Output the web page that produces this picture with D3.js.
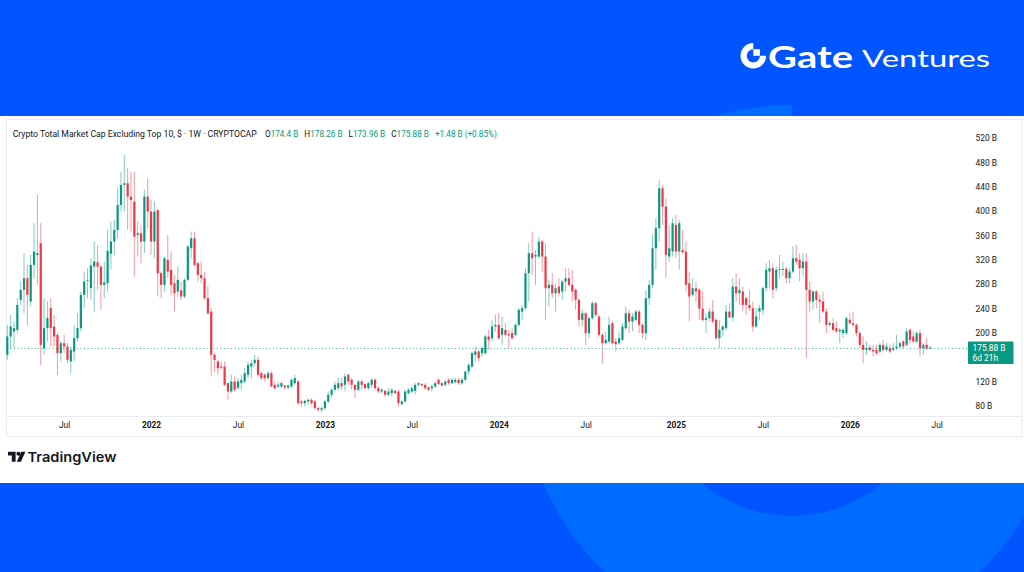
<!DOCTYPE html>
<html><head><meta charset="utf-8">
<script src="https://cdn.jsdelivr.net/npm/d3@7/dist/d3.min.js"></script>
<style>html,body{margin:0;padding:0;background:#0055ff;overflow:hidden}svg{display:block}</style>
</head><body>
<svg id="c" width="1024" height="572"></svg>
<script>
// ---------------- DATA (weekly candles, values in billions USD) ----------------
const startWeek = "2021-03-08";
const opens = [
164.0,194.1,202.3,205.0,254.3,270.7,289.8,251.5,311.7,328.0,
347.2,174.9,207.8,240.6,210.5,196.8,166.7,183.1,177.7,153.0,
169.5,191.3,207.8,262.5,286.0,273.4,308.9,316.0,308.9,278.9,
281.6,330.0,350.0,369.1,410.1,443.0,445.7,423.8,415.6,360.9,
363.7,350.0,423.8,399.2,350.0,401.9,
298.0,278.9,319.9,303.5,281.6,267.9,270.0,259.7,287.1,339.0,
355.4,314.4,295.3,289.8,257.0,235.1,164.0,153.0,144.8,144.8,
117.5,103.8,120.2,110.0,117.5,120.2,131.2,144.8,150.3,155.8,
133.9,131.2,125.7,133.9,114.8,112.0,112.0,113.7,110.4,112.0,
117.5,120.2,87.4,84.7,87.4,90.1,
87.4,76.4,73.7,76.4,87.4,98.4,106.6,109.3,117.5,114.8,
131.2,123.0,114.8,106.6,120.2,115.9,109.3,114.8,123.0,109.3,
103.8,104.9,98.4,101.1,104.9,103.8,83.0,87.4,101.1,103.8,
105.0,114.8,115.9,114.8,110.4,109.3,112.0,123.0,117.5,114.8,
123.0,117.5,119.1,123.0,117.5,123.0,136.6,
144.8,164.0,169.5,166.7,166.7,194.1,191.3,210.5,213.2,196.8,
205.0,197.9,199.6,196.8,213.2,235.1,240.6,298.0,330.8,325.4,
325.4,350.0,325.4,273.4,278.9,265.2,276.1,267.9,284.3,289.8,
278.9,270.7,254.3,221.4,232.4,199.6,224.2,248.8,226.9,196.8,
183.1,185.9,216.0,185.9,183.1,188.6,
207.8,232.4,218.7,221.4,235.1,213.2,199.6,257.0,278.9,339.0,
371.9,437.5,407.4,325.4,333.6,377.3,333.6,336.0,333.6,281.6,
262.5,273.4,270.7,240.0,221.4,224.2,235.1,221.4,191.3,205.0,
207.8,235.1,225.3,276.1,265.2,267.9,257.0,246.0,240.6,210.5,
235.1,237.9,273.4,300.7,306.2,273.4,
303.5,303.5,305.1,289.8,300.7,322.6,319.9,306.2,317.2,270.7,
251.5,267.9,254.3,251.5,235.1,213.2,216.0,207.8,202.3,199.6,
199.6,221.4,216.0,213.2,199.6,180.4,172.2,176.0,172.2,172.2,
169.5,180.4,172.2,174.9,172.2,174.9,177.7,185.9,180.4,205.0,
194.1,185.9,199.6,174.9,180.4,174.4
];
const highs = [
213.2,229.6,218.7,257.0,284.3,330.8,311.7,328.1,380.1,426.5,
380.1,257.0,251.5,257.0,229.6,199.6,185.9,196.8,183.1,177.7,
213.2,232.4,267.9,300.7,306.2,322.6,350.0,344.5,311.7,317.2,
369.1,382.8,385.5,437.5,464.8,492.2,470.3,464.8,464.8,382.8,
377.3,434.8,453.9,418.3,415.6,401.9,
300.7,325.4,360.9,333.6,295.3,308.9,284.3,289.8,344.5,366.4,
366.4,317.2,317.2,300.7,276.1,240.6,166.7,155.8,153.0,153.0,
118.0,131.2,128.4,125.7,131.2,142.1,153.0,155.8,164.0,161.2,
136.6,133.9,136.6,136.6,120.2,120.2,120.2,114.8,114.8,125.7,
131.2,123.0,90.1,90.1,92.9,92.9,
90.1,79.2,79.2,90.1,103.8,109.3,120.2,125.7,125.7,133.9,
133.9,125.7,115.0,123.0,123.0,117.5,120.2,125.7,125.7,112.0,
109.3,106.6,109.3,109.3,106.6,106.6,90.1,106.6,109.3,112.0,
117.5,119.1,117.5,117.5,112.0,114.8,120.2,125.7,119.1,123.0,
125.7,125.7,125.7,125.7,125.7,137.7,150.3,
169.5,177.7,172.2,177.7,196.8,205.0,221.4,229.6,232.4,226.9,
216.0,205.0,207.8,216.0,240.6,246.0,306.2,347.2,366.4,336.3,
358.2,352.7,347.2,287.1,298.0,281.6,289.8,287.1,306.2,306.2,
303.5,273.4,257.0,237.9,235.1,226.9,251.5,251.5,229.6,199.6,
202.3,226.9,218.7,191.3,202.3,216.0,
243.3,237.9,232.4,237.9,237.9,216.0,270.7,287.1,360.9,388.3,
451.2,443.0,421.1,377.3,388.3,393.7,385.5,369.1,350.0,300.7,
289.8,284.3,273.4,267.9,232.4,240.6,254.3,224.2,221.4,213.2,
246.0,248.8,289.8,298.0,289.8,276.1,259.7,270.7,251.5,240.6,
246.0,276.1,314.4,319.9,314.4,308.9,
328.1,317.2,308.9,306.2,341.8,344.5,330.8,330.8,330.8,284.3,
270.7,270.7,262.5,267.9,240.6,218.7,224.2,218.7,207.8,207.8,
226.9,232.4,235.1,216.0,202.3,194.1,185.9,180.4,180.4,180.4,
183.1,188.6,183.1,180.4,183.1,196.8,185.9,188.6,207.8,207.8,
202.3,202.3,205.0,183.1,191.3,178.26
];
const lows = [
155.8,174.9,174.9,199.6,246.0,232.4,213.2,243.3,289.8,278.9,
147.6,164.0,185.9,177.7,177.7,131.2,153.0,166.7,150.3,133.9,
153.0,185.9,202.3,240.6,257.0,254.3,235.1,270.7,237.9,257.0,
267.9,305.0,328.1,355.4,399.2,399.2,369.1,366.4,292.5,325.4,
314.4,330.8,371.9,328.1,322.6,259.7,
257.0,267.9,289.8,262.5,235.1,259.7,254.3,257.0,284.3,322.6,
309.0,284.3,281.6,254.3,229.6,128.4,136.6,131.2,140.0,113.0,
90.1,101.1,103.8,106.6,106.6,118.0,125.7,125.7,144.8,128.4,
123.0,120.2,123.0,111.0,106.6,109.3,109.3,106.6,106.6,109.3,
114.8,81.9,79.2,79.2,81.9,81.9,
73.7,71.0,69.4,73.7,84.7,92.9,103.8,106.6,106.6,103.8,
114.8,106.6,92.9,103.8,106.6,106.6,106.6,109.3,106.6,101.1,
101.1,95.6,95.6,95.6,99.4,79.2,80.8,86.3,98.4,101.1,
99.4,112.0,112.0,106.6,104.9,103.8,109.3,114.8,112.0,112.0,
114.8,115.9,117.5,114.8,114.8,120.2,131.2,
142.1,153.0,153.0,161.2,164.0,172.2,185.9,202.3,189.0,180.4,
194.1,174.9,188.6,194.1,210.5,221.4,237.9,251.5,295.3,278.9,
322.6,300.7,221.4,243.3,257.0,235.1,259.7,254.3,267.9,276.1,
251.5,237.9,210.5,210.5,180.4,191.3,221.4,226.9,194.0,150.3,
180.4,183.1,180.4,169.5,180.4,185.9,
205.0,199.6,202.3,218.7,199.6,191.3,188.6,246.0,273.4,303.5,
350.0,377.3,289.8,317.2,325.4,322.6,303.5,330.0,267.9,218.7,
259.7,251.5,221.4,218.7,199.6,218.7,216.0,188.6,174.9,194.1,
205.0,224.2,218.7,251.5,246.0,235.1,229.6,235.1,202.3,207.8,
221.4,229.6,267.9,273.4,257.0,267.9,
289.8,292.5,281.6,281.6,298.0,311.7,284.3,292.5,158.5,235.1,
237.9,240.6,216.0,232.4,199.6,210.5,202.3,199.6,183.1,191.3,
196.8,213.2,210.5,194.1,174.9,150.3,164.0,169.5,161.2,164.0,
166.7,169.5,169.5,166.7,169.5,172.2,174.9,174.9,177.7,183.1,
183.1,183.1,161.2,164.0,172.2,173.96
];
const closes = [
194.1,210.5,207.8,246.0,270.7,289.8,262.5,311.7,333.6,331.0,
180.4,207.8,224.2,207.8,194.1,166.7,183.1,177.7,155.8,172.2,
191.3,207.8,262.5,284.3,287.1,310.6,317.2,308.9,278.9,283.2,
334.7,350.0,369.1,410.1,443.0,445.7,423.8,418.3,358.2,363.7,
350.0,423.8,399.2,350.0,399.2,298.0,
278.9,322.6,300.7,278.9,265.2,287.1,259.7,287.1,341.8,355.4,
311.7,295.3,289.8,257.0,232.4,164.0,155.8,142.1,143.0,114.8,
103.8,120.2,106.6,120.2,123.0,133.9,147.6,150.3,155.8,131.2,
125.7,125.7,133.9,112.0,109.3,114.8,117.5,110.4,113.7,123.0,
125.7,84.7,84.7,88.5,90.1,84.7,
76.4,73.7,76.4,87.4,98.4,106.6,114.8,117.5,112.0,128.4,
120.2,114.8,106.6,120.2,114.8,109.3,117.5,123.0,109.3,103.8,
106.6,98.4,103.8,106.6,101.1,84.7,87.4,103.8,106.6,109.3,
114.8,117.5,113.7,109.3,106.6,112.0,117.5,115.9,113.7,120.2,
117.5,123.0,123.0,117.5,123.0,136.6,147.6,
166.7,169.5,158.5,174.9,194.1,188.6,210.5,213.2,191.3,207.8,
196.8,195.7,191.3,213.2,237.9,240.6,298.0,330.8,322.6,328.1,
350.0,325.4,273.4,278.9,265.2,273.4,265.2,284.3,289.8,278.9,
267.9,254.3,221.4,232.4,199.6,224.2,248.8,229.6,196.8,183.1,
188.6,213.2,183.1,181.5,191.3,210.5,
232.4,218.7,226.9,235.1,213.2,199.6,257.0,278.9,339.0,371.9,
437.5,407.4,328.1,339.0,380.1,333.6,380.1,332.5,278.9,259.7,
273.4,267.9,240.0,221.4,224.2,235.1,218.7,191.3,205.0,210.5,
235.1,225.3,276.1,265.2,270.7,246.0,246.0,240.6,210.5,226.9,
240.6,273.4,303.5,306.2,270.7,303.5,
305.1,305.1,289.8,300.7,322.6,317.2,306.2,317.2,270.7,251.5,
267.9,254.3,251.5,235.1,213.2,216.0,205.0,202.3,205.0,205.0,
224.2,216.0,213.2,199.6,180.4,172.2,174.9,172.2,169.5,166.7,
180.4,172.2,177.7,169.5,174.9,177.7,183.1,177.7,202.3,188.6,
185.9,199.6,174.9,180.4,174.4,175.88
];
const yTicks = [80,120,200,240,280,320,360,400,440,480,520];
const xTickDates = ["2021-07-05","2022-01-03","2022-07-04","2023-01-02","2023-07-03","2024-01-01","2024-07-01","2025-01-06","2025-07-07","2026-01-05","2026-07-06"];
const xTickLabels = ["Jul","2022","Jul","2023","Jul","2024","Jul","2025","Jul","2026","Jul"];
const titleText = "Crypto Total Market Cap Excluding Top 10, $ · 1W · CRYPTOCAP";
const countdown = "6d 21h";

// ---------------- DRAWING ----------------
const W = 1024, H = 572;
const UP = "#089981", DN = "#f23645";
const FONT = "Roboto, 'Open Sans', sans-serif";
const svg = d3.select("#c");
const defs = svg.append("defs");
const g1 = defs.append("linearGradient").attr("id","ringGrad")
  .attr("gradientUnits","userSpaceOnUse").attr("x1",520).attr("y1",0).attr("x2",1064).attr("y2",0);
g1.append("stop").attr("offset",0).attr("stop-color","#006cff");
g1.append("stop").attr("offset",1).attr("stop-color","#0095ff");

svg.append("rect").attr("width",W).attr("height",H).attr("fill","#0055ff");
svg.append("path").attr("transform","translate(792,376)")
  .attr("d", d3.arc().innerRadius(140).outerRadius(271).startAngle(Math.PI/2).endAngle(2*Math.PI)())
  .attr("fill","url(#ringGrad)");

// header logo
const lg = svg.append("g").attr("fill","#fff");
lg.append("path").attr("transform","translate(753.3,55.8)")
  .attr("d", d3.arc().innerRadius(6.6).outerRadius(12.8).startAngle(Math.PI/2).endAngle(2*Math.PI)());
lg.append("rect").attr("x",753.3).attr("y",55.8-6.6).attr("width",6.6).attr("height",6.6);
lg.append("text").attr("x",768).attr("y",67.7).attr("font-family","Lato, 'Open Sans', sans-serif")
  .attr("font-weight",700).attr("font-size",30).attr("textLength",85).attr("lengthAdjust","spacingAndGlyphs").text("Gate");
lg.append("text").attr("x",862).attr("y",66.9).attr("font-family","Lato, 'Open Sans', sans-serif")
  .attr("font-weight",400).attr("font-size",24).attr("textLength",128).attr("lengthAdjust","spacingAndGlyphs").text("Ventures");

// white panel
svg.append("rect").attr("x",0).attr("y",116).attr("width",W).attr("height",367).attr("fill","#ffffff");

// chart frame
svg.append("rect").attr("x",6.5).attr("y",119.5).attr("width",1015.5).attr("height",317)
  .attr("fill","none").attr("stroke","#e9ebf0").attr("stroke-width",1);
svg.append("line").attr("x1",6.5).attr("x2",1022).attr("y1",416.5).attr("y2",416.5)
  .attr("stroke","#e9ebf0").attr("stroke-width",1);

// data
const parse = d3.utcParse("%Y-%m-%d");
const t0 = parse(startWeek);
const data = opens.map((o,i)=>({date:d3.utcDay.offset(t0,7*i),o,h:highs[i],l:lows[i],c:closes[i]}));
const n = data.length;
const x = d3.scaleUtc().domain([data[0].date, data[n-1].date]).range([7.3, 930]);
const y = d3.scaleLinear().domain([80,520]).range([406,138]);

// candles
const cg = svg.append("g");
const bw = 2.2;
cg.selectAll("line.w").data(data).join("line")
  .attr("x1",d=>x(d.date)).attr("x2",d=>x(d.date))
  .attr("y1",d=>y(d.h)).attr("y2",d=>y(d.l))
  .attr("stroke",d=>d.c>=d.o?UP:DN).attr("stroke-width",1).attr("stroke-opacity",0.5);
cg.selectAll("rect.b").data(data).join("rect")
  .attr("x",d=>x(d.date)-bw/2).attr("width",bw)
  .attr("y",d=>y(Math.max(d.o,d.c)))
  .attr("height",d=>Math.max(0.8, Math.abs(y(d.o)-y(d.c))))
  .attr("fill",d=>d.c>=d.o?UP:DN);

// last price line
const last = data[n-1];
const py = Math.round(y(last.c)) + 0.5;
svg.append("line").attr("x1",7).attr("x2",968).attr("y1",py).attr("y2",py)
  .attr("stroke",UP).attr("stroke-opacity",0.75).attr("stroke-width",1).attr("stroke-dasharray","1,2.5");

// y axis
const ya = svg.append("g").attr("transform","translate(975.5,0)")
  .call(d3.axisRight(y).tickValues(yTicks).tickFormat(d=>d+" B").tickSize(0).tickPadding(0));
ya.select(".domain").remove();
ya.selectAll("text").attr("font-family",FONT).attr("font-size",8.4).attr("fill","#131722");

// last price label
svg.append("rect").attr("x",968).attr("y",y(last.c)-6).attr("width",45.5).attr("height",22.5)
  .attr("fill",UP).attr("rx",1);
svg.append("text").attr("x",972.5).attr("y",y(last.c)+3).attr("font-family",FONT).attr("font-size",8.4)
  .attr("fill","#fff").text(last.c.toFixed(2)+" B");
svg.append("text").attr("x",972.5).attr("y",y(last.c)+13).attr("font-family",FONT).attr("font-size",8.4)
  .attr("fill","#fff").text(countdown);

// x axis
const xa = svg.append("g").attr("transform","translate(0,416.5)")
  .call(d3.axisBottom(x).tickValues(xTickDates.map(parse)).tickFormat((d,i)=>xTickLabels[i]).tickSize(0).tickPadding(6));
xa.select(".domain").remove();
xa.selectAll("text").attr("font-family",FONT).attr("font-size",8.4).attr("fill","#131722")
  .attr("font-weight",(d,i)=>xTickLabels[i]==="Jul"?400:700);

// title + legend
svg.append("text").attr("x",12.7).attr("y",137.3).attr("font-family",FONT).attr("font-size",8.3)
  .attr("fill","#131722").attr("textLength",244).attr("lengthAdjust","spacingAndGlyphs").text(titleText);
const prev = data[n-2];
const chg = last.c - prev.c;
const fmt = v => (+v.toFixed(2)) + " B";
const legend = [
  {k:"O", v:fmt(last.o)},
  {k:"H", v:fmt(last.h)},
  {k:"L", v:fmt(last.l)},
  {k:"C", v:fmt(last.c)},
  {k:"", v:(chg>=0?"+":"")+fmt(chg)+" ("+(chg>=0?"+":"")+(chg/prev.c*100).toFixed(2)+"%)"}
];
const legX0 = 265, legX1 = 497, gap = 6;
const items = legend.map(e=>{
  const t = svg.append("text").attr("y",137.3).attr("font-family",FONT).attr("font-size",8);
  if (e.k) t.append("tspan").attr("fill","#131722").text(e.k);
  t.append("tspan").attr("fill",UP).text(e.v);
  return t;
});
let tot = items.reduce((s,t)=>s+t.node().getComputedTextLength(),0);
const fs = Math.min(9, 8*(legX1-legX0-gap*(items.length-1))/tot);
let cx = legX0;
items.forEach(t=>{
  t.attr("font-size",fs).attr("x",cx);
  cx += t.node().getComputedTextLength() + gap;
});

// TradingView logo
const tv = svg.append("g").attr("fill","#131722");
tv.append("path").attr("d","M8,451.8 H15.6 V461.8 H11.8 V455.6 H8 Z");
tv.append("circle").attr("cx",18.4).attr("cy",453.8).attr("r",2);
tv.append("path").attr("d","M21.2,451.8 H25.4 L21,461.8 H16.8 Z");
tv.append("text").attr("x",27.5).attr("y",461.6).attr("font-family","Inter, Roboto, sans-serif")
  .attr("font-weight",600).attr("font-size",13.5).attr("textLength",89).attr("lengthAdjust","spacingAndGlyphs")
  .text("TradingView");
</script>
</body></html>
